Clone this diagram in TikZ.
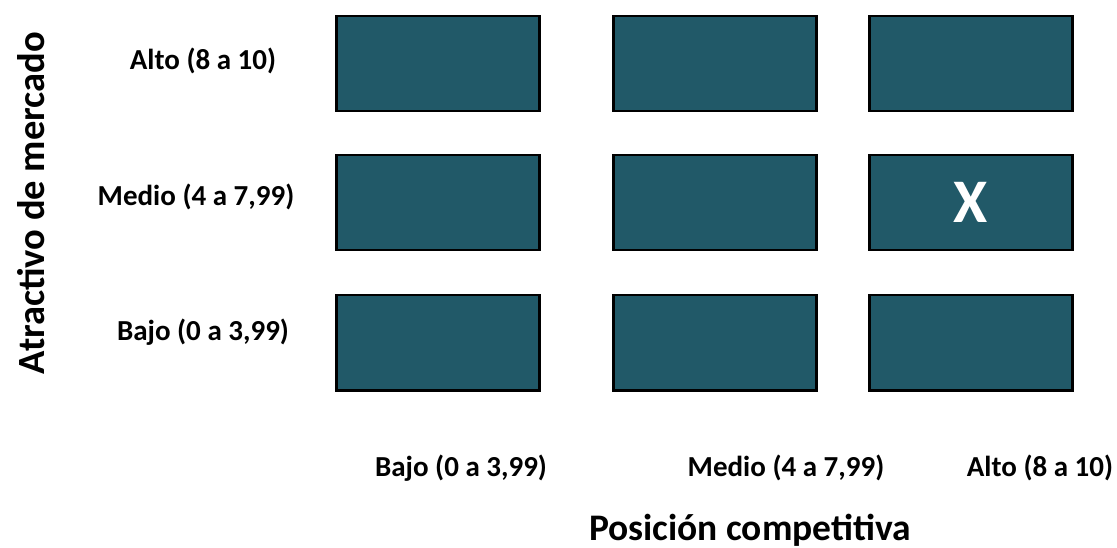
\documentclass[tikz,border=0pt]{standalone}
\usepackage{fontspec}
\setmainfont{Carlito}
\definecolor{cellfill}{HTML}{215968}
\begin{document}
\begin{tikzpicture}[x=1pt,y=-1pt,
  cell/.style={draw=black,line width=2.5pt,fill=cellfill,minimum width=203pt,minimum height=95pt,inner sep=0pt,anchor=north west},
  lab/.style={font=\bfseries\fontsize{29}{32}\selectfont,inner sep=0pt},
  axis/.style={font=\bfseries\fontsize{37.5}{40}\selectfont,inner sep=0pt}]
\useasboundingbox (0,0) rectangle (1117,548);
\node[cell] (c11) at (335,15) {};
\node[cell] (c12) at (612,15) {};
\node[cell] (c13) at (868,15) {};
\node[cell] (c21) at (335,154) {};
\node[cell] (c22) at (612,154) {};
\node[cell,text=white,font=\bfseries\fontsize{62}{64}\selectfont] (c23) at (868,154) {X};
\node[cell] (c31) at (335,294) {};
\node[cell] (c32) at (612,294) {};
\node[cell] (c33) at (868,294) {};
\node[lab] (r1) at (203,61) {Alto (8 a 10)};
\node[lab] (r2) at (196,197) {Medio (4 a 7,99)};
\node[lab] (r3) at (203,332) {Bajo (0 a 3,99)};
\node[lab] (b1) at (461,468) {Bajo (0 a 3,99)};
\node[lab] (b2) at (786,468) {Medio (4 a 7,99)};
\node[lab] (b3) at (1040,468) {Alto (8 a 10)};
\node[axis] (xt) at (750,530) {Posición competitiva};
\node[axis,rotate=90,font=\bfseries\fontsize{38.5}{40}\selectfont] (yt) at (31,203) {Atractivo de mercado};
\end{tikzpicture}
\end{document}
